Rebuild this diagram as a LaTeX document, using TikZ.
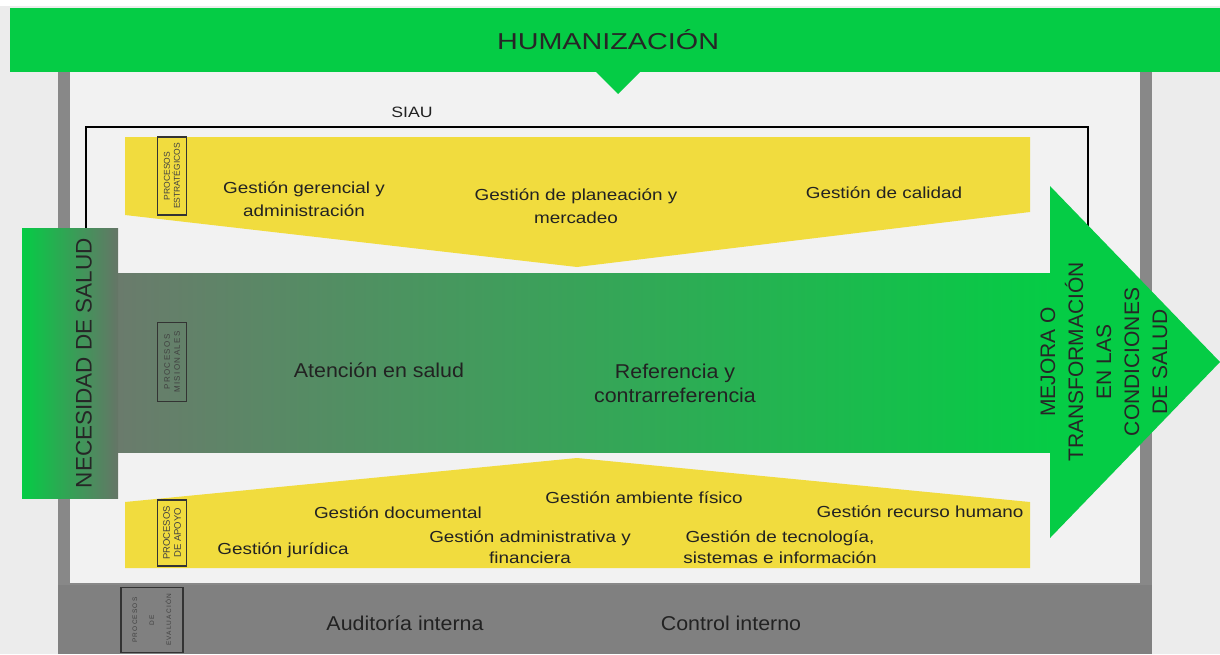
\documentclass[tikz,border=0pt]{standalone}
\usepackage{fontspec}
\setmainfont{Liberation Sans}
\newfontfamily\wideFont[FakeStretch=1.18]{Liberation Sans}
\newfontfamily\midFont[FakeStretch=1.07]{Liberation Sans}
\newfontfamily\humFont[FakeStretch=1.25]{Liberation Sans}
\newfontfamily\spacedFont[LetterSpace=18]{Liberation Sans}
\usepackage{xcolor}
\usetikzlibrary{positioning}
\definecolor{humGreen}{HTML}{05CC45}
\definecolor{misGray}{HTML}{6A7B6C}
\definecolor{misMid}{HTML}{4C9860}
\definecolor{bandYellow}{HTML}{F1DC3E}
\definecolor{frameGray}{HTML}{888888}
\definecolor{evalGray}{HTML}{808080}
\definecolor{paperGray}{HTML}{ECECEC}
\definecolor{innerGray}{HTML}{F2F2F2}
\definecolor{textDark}{HTML}{222222}

\begin{document}
\begin{tikzpicture}[x=1pt, y=-1pt,
  gtext/.style={text=textDark, align=center, font=\wideFont\fontsize{16}{23}\selectfont},
  mtext/.style={text=textDark, align=center, font=\midFont\fontsize{20}{24}\selectfont},
  bigtext/.style={text=black!85, align=center, font=\fontsize{21}{28}\selectfont},
  procbox/.style={draw=black!80, line width=1.3pt, rotate=90, align=center, inner sep=1pt,
    minimum height=29pt, text=black!75, font=\fontsize{8.5}{10}\selectfont}]
\useasboundingbox (0,0) rectangle (1220,654);
\fill[white] (0,0) rectangle (1220,654);
\fill[paperGray] (0,6) rectangle (1220,654);

% marco gris y evaluacion
\fill[frameGray] (58,72) rectangle (1152,654);
\fill[innerGray] (70,72) rectangle (1140,583);
\fill[evalGray] (58,585) rectangle (1152,654);

% banda de humanizacion
\fill[humGreen] (10,8) rectangle (1220,72);
\fill[humGreen] (595,71) -- (641,71) -- (618,94) -- cycle;
\node (hum) at (608,40) [text=black!85, font=\humFont\fontsize{23}{28}\selectfont] {HUMANIZACIÓN};

% SIAU
\draw[black, line width=1.6pt] (86,230) -- (86,127) -- (1088,127) -- (1088,300);
\node (siau) at (412,112) [text=textDark, font=\wideFont\fontsize{15}{18}\selectfont] {SIAU};

% procesos estrategicos
\fill[bandYellow] (125,137) -- (1030,137) -- (1030,212) -- (577,267) -- (125,215) -- cycle;
\node (estr) at (172,176) [procbox, minimum width=78pt] {PROCESOS\\ESTRATÉGICOS};
\node (gerencial) at (304,199) [gtext] {Gestión gerencial y\\administración};
\node (planeacion) at (576,206) [gtext] {Gestión de planeación y\\mercadeo};
\node (calidad) at (884,193) [gtext] {Gestión de calidad};

% procesos de apoyo
\fill[bandYellow] (125,502) -- (577,458) -- (1030,502) -- (1030,568) -- (125,568) -- cycle;
\node (apoyo) at (172,533) [procbox, minimum width=66pt, font=\fontsize{9.5}{11}\selectfont] {PROCESOS\\DE APOYO};
\node (documental) at (398,513) [gtext] {Gestión documental};
\node (ambiente) at (644,498) [gtext] {Gestión ambiente físico};
\node (humano) at (920,512) [gtext] {Gestión recurso humano};
\node (juridica) at (283,550) [gtext] {Gestión jurídica};
\node (financiera) at (530,547) [gtext, font=\wideFont\fontsize{16}{20.5}\selectfont] {Gestión administrativa y\\financiera};
\node (tecnologia) at (780,547) [gtext, font=\wideFont\fontsize{16}{20.5}\selectfont] {Gestión de tecnología,\\sistemas e información};

% procesos misionales y flecha
\shade[left color=misGray, middle color=misMid, right color=humGreen] (118,273) rectangle (1052,452);
\fill[humGreen] (1050,186) -- (1220,362) -- (1050,538) -- cycle;
\node (mis) at (172,362) [procbox, minimum width=79pt, font=\spacedFont\fontsize{8}{10}\selectfont] {PROCESOS\\MISIONALES};
\node (atencion) at (379,370) [mtext] {Atención en salud};
\node (referencia) at (675,383) [mtext] {Referencia y\\contrarreferencia};
\node (mejora) at (1104,362) [bigtext, rotate=90] {MEJORA O\\TRANSFORMACIÓN\\EN LAS\\CONDICIONES\\DE SALUD};

% necesidad de salud
\shade[left color=humGreen, right color=misGray!95!black] (22,228) rectangle (118,498);
\node (necesidad) at (84,363) [bigtext, rotate=90, font=\fontsize{22.5}{28}\selectfont] {NECESIDAD DE SALUD};

% evaluacion
\node (eval) at (152,620) [procbox, minimum width=65pt, minimum height=62pt,
  font=\spacedFont\fontsize{6.5}{17}\selectfont] {PROCESOS\\DE\\EVALUACIÓN};
\node (auditoria) at (405,623) [mtext] {Auditoría interna};
\node (control) at (731,623) [mtext] {Control interno};
\end{tikzpicture}
\end{document}
